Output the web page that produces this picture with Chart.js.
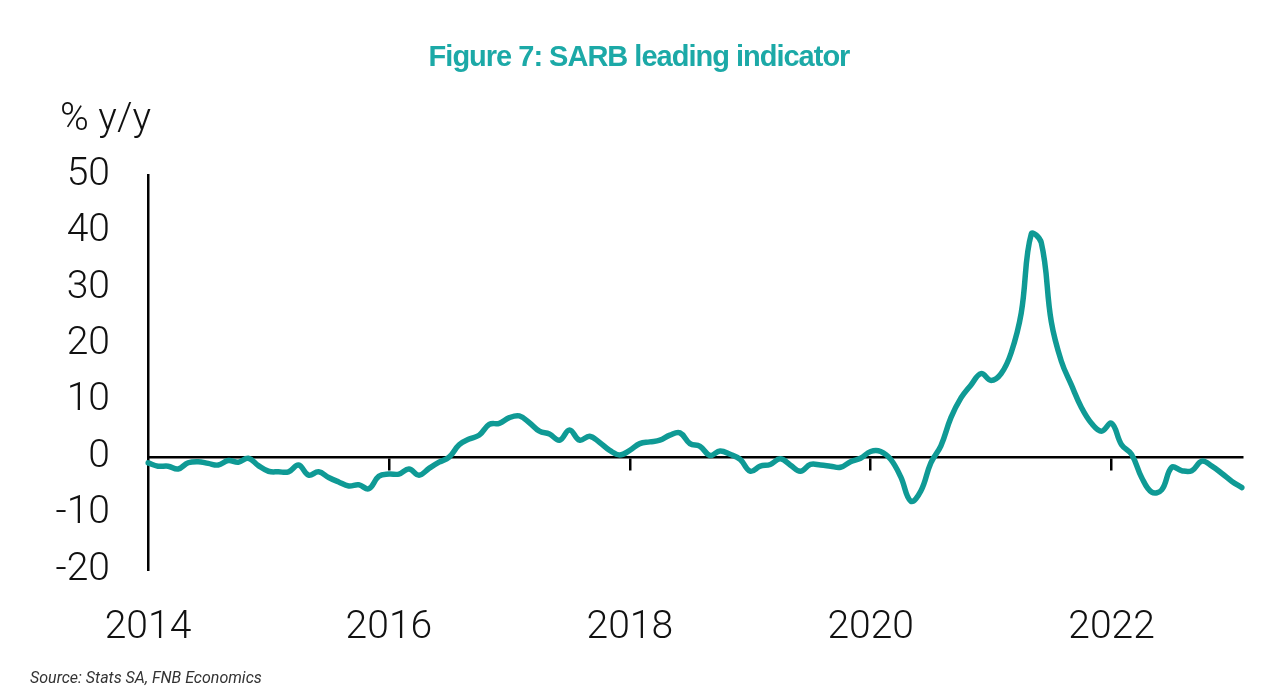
<!DOCTYPE html>
<html lang="en">
<head>
  <meta charset="UTF-8">
  <title>Figure 7: SARB leading indicator</title>
  <script src="https://cdn.jsdelivr.net/npm/chart.js"></script>
  <style>
    body {
      margin: 0;
      padding: 0;
      background: #fff;
    }

    #wrap {
      position: relative;
      width: 1280px;
      height: 700px;
      overflow: hidden;
    }

    #title {
      position: absolute;
      top: 40px;
      left: 0;
      width: 1278px;
      text-align: center;
      font-family: "Liberation Sans", sans-serif;
      font-weight: bold;
      font-size: 29px;
      color: #1ca9a7;
      letter-spacing: -1px;
    }

    #unit {
      position: absolute;
      top: 94px;
      left: 60px;
      font-family: Roboto, sans-serif;
      font-weight: 300;
      font-size: 39px;
      color: #111;
    }

    #source {
      position: absolute;
      top: 668px;
      left: 30px;
      font-family: Roboto, sans-serif;
      font-style: italic;
      font-size: 16px;
      color: #333;
    }
  </style>
</head>
<body>
  <div id="wrap">
    <canvas id="chart" width="1280" height="700"></canvas>
    <div id="title">Figure 7: SARB leading indicator</div>
    <div id="unit">% y/y</div>
    <div id="source">Source: Stats SA, FNB Economics</div>
  </div>

  <script>
    // monthly, Jan 2014 .. Feb 2023
    const startYear = 2014;
    const yearTicks = ['2014', '2016', '2018', '2020', '2022'];
    const leading = [
      -1.0, -1.6, -1.6, -2.1, -1.0, -0.8, -1.1, -1.4, -0.6, -0.9, -0.2, -1.5,
      -2.5, -2.6, -2.6, -1.4, -3.2, -2.6, -3.6, -4.4, -5.1, -4.9, -5.6, -3.4,
      -3.0, -3.0, -2.1, -3.2, -2.0, -0.9, 0.0, 2.2, 3.2, 3.9, 5.8, 6.0,
      7.0, 7.3, 6.1, 4.6, 4.1, 3.0, 4.8, 3.0, 3.7, 2.6, 1.2, 0.4,
      1.2, 2.4, 2.7, 3.0, 3.9, 4.3, 2.4, 1.9, 0.3, 1.1, 0.5, -0.4,
      -2.5, -1.6, -1.3, -0.3, -1.4, -2.5, -1.3, -1.4, -1.6, -1.8, -0.8, -0.2,
      1.0, 1.0, -0.4, -3.5, -7.8, -6.0, -1.0, 2.0, 7.0, 10.5, 12.8, 14.8,
      13.6, 14.8, 18.5, 25.5, 39.5, 38.0, 24.0, 17.0, 12.8, 8.8, 6.0, 4.6,
      6.0, 2.2, 0.5, -3.6, -6.2, -5.8, -1.8, -2.4, -2.4, -0.7, -1.6, -2.9,
      -4.3, -5.4
    ];

    const months = [];
    for (let i = 0; i < leading.length; i++) {
      const y = startYear + Math.floor(i / 12);
      const m = (i % 12) + 1;
      months.push(y + '-' + (m < 10 ? '0' + m : m));
    }

    const axisFont = { family: 'Roboto', weight: 300, size: 39 };

    new Chart(document.getElementById('chart'), {
      type: 'line',
      data: {
        labels: months,
        datasets: [{
          label: 'SARB leading indicator',
          data: leading,
          borderColor: '#0f9a95',
          borderWidth: 5.5,
          borderCapStyle: 'round',
          borderJoinStyle: 'round',
          pointRadius: 0,
          tension: 0.4,
          xAxisID: 'x'
        }]
      },
      options: {
        responsive: false,
        animation: false,
        layout: { padding: { top: 175, right: 38, bottom: 0, left: 0 } },
        plugins: {
          legend: { display: false },
          tooltip: { enabled: false }
        },
        scales: {
          x: {
            type: 'category',
            position: { y: 0 },
            ticks: { display: false, autoSkip: false },
            border: { display: true, color: '#000', width: 2.5 },
            grid: {
              drawOnChartArea: false,
              drawTicks: true,
              tickLength: 12,
              lineWidth: 2.5,
              color: ctx => (ctx.tick && ctx.tick.value % 24 === 0 && ctx.tick.value > 0) ? '#000' : 'rgba(0,0,0,0)'
            }
          },
          x2: {
            type: 'category',
            position: 'bottom',
            border: { display: false },
            grid: { display: false, drawTicks: false },
            ticks: {
              autoSkip: false,
              maxRotation: 0,
              padding: 35,
              color: '#111',
              font: axisFont,
              callback: (v, i) => i % 24 === 0 ? yearTicks[i / 24] : ''
            },
            afterFit: scale => { scale.height = 130; }
          },
          y: {
            min: -20,
            max: 50,
            ticks: {
              stepSize: 10,
              padding: 38,
              color: '#111',
              font: axisFont
            },
            border: { display: true, color: '#000', width: 2.5 },
            grid: { display: false, drawTicks: false },
            afterFit: scale => { scale.width = 148; }
          }
        }
      }
    });
  </script>
</body>
</html>
